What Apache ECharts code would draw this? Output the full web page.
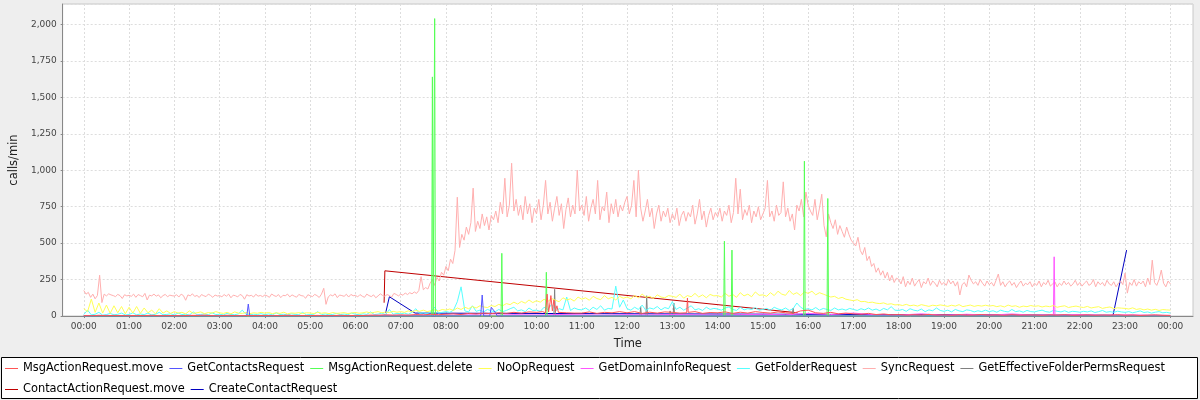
<!DOCTYPE html>
<html><head><meta charset="utf-8">
<script src="https://cdn.jsdelivr.net/npm/echarts@6/dist/echarts.min.js"></script>
<style>html,body{margin:0;padding:0;background:#eeeeee}#c{width:1200px;height:400px}</style>
</head><body><div id="c"></div>
<script>
// ---- tick labels (minutes of day) ----
const hourTicks = [0,60,120,180,240,300,360,420,480,540,600,660,720,780,840,900,960,1020,1080,1140,1200,1260,1320,1380,1440];
const hourLabels = ['00:00','01:00','02:00','03:00','04:00','05:00','06:00','07:00','08:00','09:00','10:00','11:00','12:00','13:00','14:00','15:00','16:00','17:00','18:00','19:00','20:00','21:00','22:00','23:00','00:00'];

// ---- series names (legend order) ----
const seriesNames = ['MsgActionRequest.move','GetContactsRequest','MsgActionRequest.delete','NoOpRequest','GetDomainInfoRequest','GetFolderRequest','SyncRequest','GetEffectiveFolderPermsRequest','ContactActionRequest.move','CreateContactRequest'];
const seriesColors = ['#ff5555','#5555ff','#55ff55','#ffff55','#ff55ff','#55ffff','#ffafaf','#808080','#c00000','#0000c0'];

// SyncRequest, one value every 3 minutes from 00:00
const syncStep = 3;
const syncValues = [
175,150,162,128,150,118,140,280,92,150,138,152,145,140,133,148,140,120,146,138,
142,135,150,128,147,140,132,155,110,143,138,150,136,145,125,140,148,132,143,139,
137,146,130,150,140,108,145,138,152,134,141,127,147,139,133,150,141,128,144,137,
140,132,147,136,150,125,143,139,131,148,140,115,146,137,142,130,149,136,141,133,
144,138,128,151,140,134,147,126,142,139,150,131,145,136,129,148,140,137,122,146,
139,133,148,140,127,150,190,80,131,145,138,152,126,144,140,135,149,130,148,139,
142,131,147,136,128,150,140,133,145,125,138,152,141,136,147,140,130,155,148,138,
150,142,158,147,160,152,165,155,175,270,180,195,185,225,250,210,265,240,300,280,
340,310,390,360,450,815,470,560,520,610,560,640,877,580,650,600,700,620,680,590,
690,660,720,640,780,700,945,680,760,1048,720,800,690,760,660,820,700,770,640,740,
700,800,660,760,930,700,780,650,740,820,690,770,600,730,810,680,760,700,1000,720,
760,690,820,650,740,800,700,930,660,750,720,850,640,770,700,800,680,760,720,780,
820,700,760,930,680,1000,740,650,720,800,680,740,600,700,760,650,720,680,740,640,
700,660,740,620,690,720,650,710,680,760,630,700,800,660,720,610,690,740,660,710,
680,740,650,720,690,760,640,710,945,700,870,660,730,690,760,640,720,680,750,660,
700,740,930,680,720,650,760,690,710,920,680,740,650,700,590,760,720,800,680,850,
760,720,690,800,660,740,835,620,543,700,640,600,660,560,620,580,540,610,560,520,
500,480,540,450,420,470,380,410,340,360,300,330,280,310,260,300,240,280,230,260,
250,220,270,200,240,215,260,205,230,250,195,235,220,260,210,240,225,200,245,215,
230,210,250,220,240,205,235,144,215,230,200,281,245,220,235,210,250,225,205,240,
215,230,205,245,288,210,235,200,225,240,210,230,195,220,240,205,225,215,235,200,
225,210,240,200,230,215,245,205,220,235,200,225,210,240,215,230,205,220,245,210,
230,205,225,240,210,220,250,200,235,215,230,205,245,220,210,235,200,225,240,215,
294,157,230,210,250,205,235,220,240,200,260,215,383,230,210,250,315,225,200,240,
220];

// NoOpRequest, one value every 5 minutes
const noOpStep = 5;
const noOpValues = [
50,30,116,25,89,20,75,18,70,22,65,15,
60,20,65,18,55,22,40,15,50,20,35,18,
30,20,25,15,35,18,22,28,16,24,20,30,
22,18,25,15,28,20,18,24,16,22,19,25,
20,24,16,22,18,26,15,21,19,23,17,22,
21,17,25,19,22,16,24,18,20,23,17,21,
24,19,22,28,20,25,30,22,27,24,32,26,
30,25,35,28,38,32,40,30,36,42,34,45,
40,48,38,55,45,60,50,65,55,70,62,58,
72,65,80,70,85,78,95,82,100,88,110,92,
105,95,115,100,120,108,98,125,110,118,102,130,
115,125,108,135,120,112,140,118,128,110,135,122,
130,118,140,125,150,128,135,120,145,130,125,140,
135,128,150,122,140,132,155,130,145,125,148,138,
140,130,155,135,148,128,160,138,150,132,165,142,
145,135,160,140,170,150,142,175,148,160,140,165,
155,170,145,160,150,140,130,135,120,128,115,110,
105,112,98,100,92,95,88,85,90,80,84,76,
78,72,80,70,75,68,78,72,66,74,70,76,
72,66,74,68,78,64,70,75,66,72,68,74,
68,72,64,70,62,75,66,70,60,68,64,72,
66,70,62,68,64,72,60,66,70,58,64,68,
62,58,66,55,60,64,52,58,62,50,56,54,
52,48,56,45,50,42,48,40,46,38,44,42,
40];

// GetFolderRequest, one value every 5 minutes
const folderStep = 5;
const folderValues = [
10,40,8,12,25,6,10,18,8,12,20,7,
10,22,8,14,9,20,7,12,25,9,11,15,
8,20,10,12,7,28,9,11,15,8,22,10,
12,8,18,10,9,15,40,11,8,12,10,16,
9,14,8,22,10,12,7,15,11,9,25,8,
10,12,30,9,14,8,11,18,10,13,9,20,
12,9,15,11,28,10,13,20,9,45,12,18,
15,20,12,25,50,18,22,15,30,60,20,25,
30,25,40,98,200,35,28,70,32,40,28,45,
35,28,45,30,38,50,60,35,42,30,55,38,
40,32,60,45,80,35,50,42,130,38,55,45,
42,55,38,60,45,70,40,52,48,205,60,110,
50,40,60,45,75,38,55,48,65,42,58,50,
98,45,60,40,55,70,42,50,38,60,45,52,
48,40,55,62,45,38,60,42,50,45,58,40,
45,52,40,60,48,42,55,38,50,89,60,45,
50,42,58,40,52,45,38,55,42,48,40,52,
45,38,50,42,55,40,48,36,52,42,64,40,
38,45,32,50,40,35,48,30,42,36,55,38,
32,40,28,45,35,30,42,38,28,36,30,40,
30,36,26,40,32,28,45,30,35,26,38,30,
28,35,40,30,26,38,32,28,36,25,32,30,
26,32,28,35,24,30,38,26,30,25,33,28,
25,30,22,28,35,24,28,20,26,30,22,25,
20];

// MsgActionRequest.move (minute, value)
const msgMoveTimes = [0,10,20,30,40,50,60,70,80,90,100,110,120,130,140,150,160,170,180,190,200,210,220,230,240,250,260,270,280,290,300,310,320,330,340,350,360,370,380,390,400,410,420,430,440,450,460,470,480,490,500,510,520,530,540,550,560,570,580,590,600,608,612,614,616,618,619,621,623,625,627,629,640,650,660,670,680,690,700,710,720,730,740,750,760,770,780,790,799,800,801,810,820,830,840,850,860,870,880,890,900,910,920,930,940,950,960,970,980,990,1000,1010,1020,1030,1040,1050,1060,1070,1080,1090,1100,1110,1120,1130,1140,1150,1160,1170,1180,1190,1200,1210,1220,1230,1240,1250,1260,1270,1280,1290,1300,1310,1320,1330,1340,1350,1360,1370,1380,1390,1400,1410,1420,1430,1440];
const msgMoveValues = [3,2,5,2,4,3,2,4,3,5,2,3,3,2,4,3,6,2,2,5,3,2,4,3,4,2,3,5,2,3,3,4,2,3,5,2,4,3,6,5,8,6,8,6,10,8,12,9,12,15,10,18,14,20,16,22,18,25,20,28,25,30,22,150,28,95,140,35,110,30,70,25,22,20,20,28,18,25,22,30,22,30,18,26,20,28,25,20,22,123,25,30,18,24,22,28,18,26,20,30,24,20,28,22,18,35,40,22,18,25,15,20,15,12,18,10,14,8,10,6,9,7,11,6,8,5,9,6,7,10,6,8,5,9,6,7,7,5,8,6,9,5,6,8,5,7,6,9,5,7,4,6,8,5,4];

// GetContactsRequest
const contactsTimes = [0,216,218,220,526,528,530,538,540,546,548,1440];
const contactsValues = [0,0,82,0,0,144,0,0,60,20,0,0];

// MsgActionRequest.delete
const deleteTimes = [0,461,462,463,464,465,466,553,554,555,612,613,614,848,849,850,858,859,860,954,955,956,985,986,987,1440];
const deleteValues = [0,0,1640,0,0,2040,0,0,430,0,0,300,0,0,513,0,0,452,0,0,1062,0,0,806,0,0];

// GetDomainInfoRequest
const domainTimes = [0,30,60,90,120,150,180,210,240,270,300,330,360,390,420,450,480,510,540,570,600,630,660,690,720,750,780,810,840,870,900,930,960,990,1020,1050,1080,1110,1140,1170,1200,1230,1260,1285,1286,1287,1290,1320,1350,1380,1410,1440];
const domainValues = [2,4,2,3,2,5,2,3,2,4,3,2,3,5,4,6,5,8,6,9,7,10,8,6,9,7,10,8,6,9,12,8,18,10,20,8,6,15,5,12,6,14,5,8,406,8,6,10,5,8,6,4];

// GetEffectiveFolderPermsRequest
const permsTimes = [0,623,624,625,737,738,739,745,746,747,776,777,778,781,782,783,939,940,941,1440];
const permsValues = [0,0,183,0,0,64,0,0,139,0,0,35,0,0,89,0,0,55,0,0];

// ContactActionRequest.move
const contactMoveTimes = [398,399,946];
const contactMoveValues = [91,310,22];

// CreateContactRequest
const createTimes = [400,405,439,1364,1382];
const createValues = [20,132,20,5,452];

function stepData(step, vals){ return vals.map((v,i)=>[i*step, v]); }
function pairData(ts, vals){ return ts.map((t,i)=>[t, vals[i]]); }

const dataByName = {
  'MsgActionRequest.move': pairData(msgMoveTimes, msgMoveValues),
  'GetContactsRequest': pairData(contactsTimes, contactsValues),
  'MsgActionRequest.delete': pairData(deleteTimes, deleteValues),
  'NoOpRequest': stepData(noOpStep, noOpValues),
  'GetDomainInfoRequest': pairData(domainTimes, domainValues),
  'GetFolderRequest': stepData(folderStep, folderValues),
  'SyncRequest': stepData(syncStep, syncValues),
  'GetEffectiveFolderPermsRequest': pairData(permsTimes, permsValues),
  'ContactActionRequest.move': pairData(contactMoveTimes, contactMoveValues),
  'CreateContactRequest': pairData(createTimes, createValues)
};

const FONT = 'DejaVu Sans';
// first series drawn on top, like the reference
const series = seriesNames.map((n,i)=>({
  name: n, type: 'line', data: dataByName[n], showSymbol: false, symbol: 'none',
  itemStyle: {color: seriesColors[i]}, lineStyle: {width: 1, color: seriesColors[i]},
  z: 20 - i, silent: true, animation: false, emphasis: {disabled: true}
}));

const chart = echarts.init(document.getElementById('c'), null, {renderer: 'canvas'});
chart.setOption({
  backgroundColor: '#eeeeee',
  animation: false,
  color: seriesColors,
  graphic: [{type: 'rect', z: 0, shape: {x: 1.5, y: 357.5, width: 1196, height: 41}, style: {fill: '#ffffff', stroke: '#000000', lineWidth: 1}}],
  grid: {left: 62, right: 7, top: 4, bottom: 84, show: true, backgroundColor: '#ffffff', borderColor: '#c8c8c8', borderWidth: 1},
  legend: {
    data: seriesNames, left: 5, top: 361, width: 1185, padding: 0,
    itemWidth: 13, itemHeight: 1, itemGap: 6, icon: 'rect', selectedMode: false,
    textStyle: {fontFamily: FONT, fontSize: 11.4, color: '#000', lineHeight: 15}
  },
  xAxis: {
    type: 'value', min: -28, max: 1470,
    name: 'Time', nameLocation: 'middle', nameGap: 22,
    nameTextStyle: {fontFamily: FONT, fontSize: 11.5, color: '#222'},
    axisLine: {show: true, onZero: false, lineStyle: {color: '#888'}},
    axisTick: {show: true, length: 2, customValues: hourTicks, lineStyle: {color: '#888'}},
    axisLabel: {customValues: hourTicks, fontFamily: FONT, fontSize: 9, color: '#444', margin: 6,
      formatter: v => hourLabels[hourTicks.indexOf(v)]},
    splitLine: {show: true, lineStyle: {color: '#dddddd', type: [2,2], width: 1}}
  },
  yAxis: {
    type: 'value', min: 0, max: 2140, interval: 250,
    name: 'calls/min', nameLocation: 'middle', nameGap: 34,
    nameTextStyle: {fontFamily: FONT, fontSize: 11.5, color: '#222'},
    axisLine: {show: true, onZero: false, lineStyle: {color: '#888'}},
    axisTick: {show: true, length: 2, lineStyle: {color: '#888'}},
    axisLabel: {fontFamily: FONT, fontSize: 9, color: '#444', margin: 6, showMaxLabel: false,
      formatter: v => v.toLocaleString('en-US')},
    splitLine: {show: true, lineStyle: {color: '#dddddd', type: [2,2], width: 1}}
  },
  series: series
});
</script></body></html>
